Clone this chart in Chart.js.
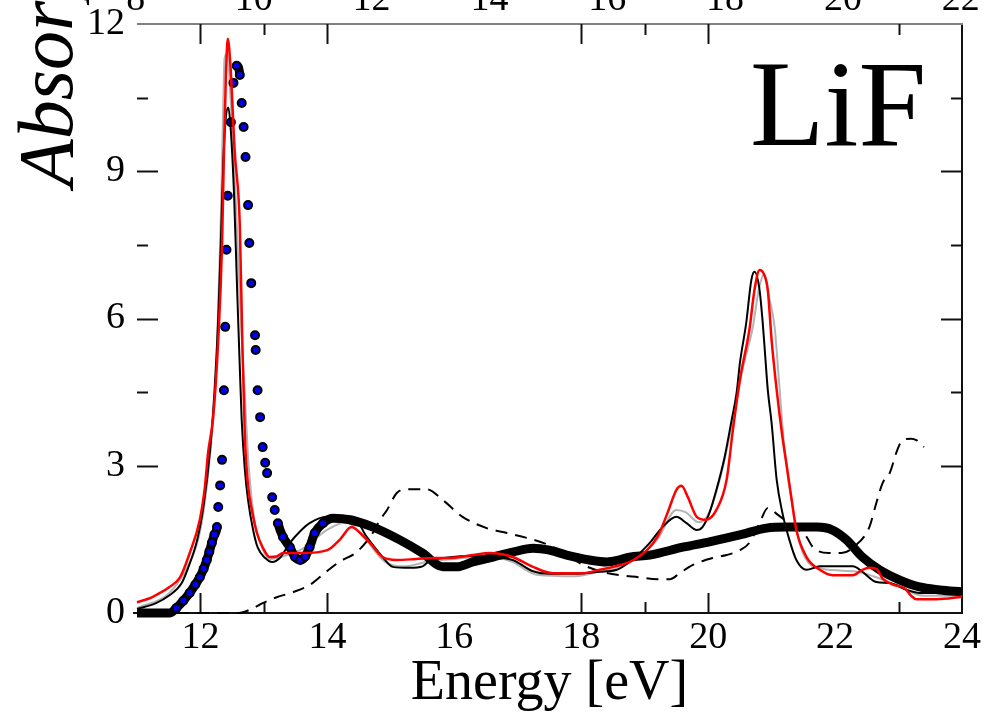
<!DOCTYPE html>
<html><head><meta charset="utf-8">
<script src="https://cdn.jsdelivr.net/npm/chart.js@4/dist/chart.umd.min.js"></script>
<style>html,body{margin:0;padding:0;background:#fff;}canvas{display:block;}</style>
</head><body>
<canvas id="c" width="996" height="716"></canvas>
<script>
// ---------- data ----------
const xTickValues = [12, 14, 16, 18, 20, 22, 24];
const yTickValues = [0, 3, 6, 9, 12];
const topPanelTickLabels = [8, 10, 12, 14, 16, 18, 20, 22];
const xMajorTickMarks = [12, 14, 18, 20];
const xMinorTickMarks = [13, 19, 23];
const yMajorTickMarks = [3, 6, 9];
const yMinorTickMarks = [4.5, 7.5, 10.5];

const redE = [11.0, 11.2, 11.36, 11.5, 11.68, 11.83, 11.99, 12.07, 12.12, 12.2, 12.28, 12.34, 12.37, 12.4, 12.43, 12.47, 12.54, 12.62, 12.66, 12.7, 12.75, 12.81, 12.89, 12.98, 13.09, 13.2, 13.3, 13.6, 14.0, 14.2, 14.38, 14.5, 14.67, 14.87, 15.09, 15.4, 15.66, 15.93, 16.29, 16.56, 16.92, 17.24, 17.55, 18.02, 18.29, 18.5, 18.85, 19.2, 19.36, 19.5, 19.58, 19.68, 19.82, 19.97, 20.13, 20.29, 20.39, 20.5, 20.65, 20.73, 20.81, 20.88, 20.94, 21.0, 21.08, 21.17, 21.24, 21.31, 21.39, 21.55, 21.76, 21.96, 22.28, 22.43, 22.54, 22.65, 22.75, 22.91, 23.1, 23.2, 23.28, 23.6, 24.0];
const redA = [0.22, 0.3, 0.41, 0.52, 0.73, 1.22, 1.9, 2.57, 3.26, 3.99, 5.56, 7.5, 9.4, 10.9, 11.7, 11.2, 9.4, 7.9, 5.5, 3.6, 2.6, 2.1, 1.63, 1.34, 1.14, 1.15, 1.22, 1.22, 1.28, 1.5, 1.75, 1.65, 1.43, 1.14, 1.08, 1.1, 1.12, 1.12, 1.18, 1.22, 1.14, 0.94, 0.81, 0.81, 0.88, 0.94, 1.1, 1.55, 2.04, 2.51, 2.59, 2.36, 1.96, 1.9, 2.1, 2.71, 3.73, 4.75, 5.77, 6.58, 6.99, 6.9, 6.58, 5.56, 4.54, 3.59, 2.98, 2.36, 1.69, 1.14, 0.88, 0.77, 0.77, 0.88, 0.92, 0.9, 0.7, 0.58, 0.5, 0.35, 0.28, 0.28, 0.33];

const blackE = [11.0, 11.3, 11.5, 11.7, 11.8, 11.95, 12.05, 12.15, 12.22, 12.28, 12.32, 12.36, 12.4, 12.44, 12.48, 12.53, 12.58, 12.62, 12.65, 12.7, 12.75, 12.83, 12.9, 13.02, 13.13, 13.25, 13.41, 13.56, 13.72, 13.99, 14.2, 14.4, 14.62, 14.87, 15.03, 15.3, 15.5, 15.61, 15.9, 16.3, 16.6, 16.92, 17.24, 17.5, 17.9, 18.29, 18.56, 18.8, 19.08, 19.28, 19.5, 19.66, 19.82, 19.91, 20.02, 20.13, 20.26, 20.37, 20.45, 20.5, 20.6, 20.68, 20.73, 20.81, 20.86, 20.9, 20.94, 21.0, 21.08, 21.17, 21.28, 21.39, 21.55, 21.76, 22.28, 22.43, 22.65, 22.86, 23.13, 23.33, 24.0];
const blackA = [0.08, 0.2, 0.35, 0.6, 0.9, 1.5, 2.2, 3.3, 4.5, 6.0, 7.5, 9.2, 10.1, 10.3, 9.8, 8.5, 6.5, 5.0, 3.93, 2.91, 2.3, 1.69, 1.34, 1.12, 1.04, 1.12, 1.43, 1.65, 1.83, 1.96, 1.96, 1.96, 1.55, 1.14, 0.94, 0.92, 0.95, 1.06, 1.13, 1.16, 1.14, 1.08, 0.85, 0.8, 0.8, 0.84, 0.88, 1.08, 1.43, 1.75, 1.96, 1.83, 1.69, 1.75, 2.04, 2.51, 3.18, 3.93, 4.5, 5.09, 5.91, 6.78, 6.95, 6.58, 5.91, 5.22, 4.54, 3.87, 2.71, 2.04, 1.49, 1.08, 0.88, 0.95, 0.95, 0.84, 0.63, 0.61, 0.47, 0.41, 0.41];

const grayE = [11.0, 11.5, 11.8, 12.0, 12.15, 12.25, 12.32, 12.35, 12.38, 12.42, 12.47, 12.55, 12.62, 12.7, 12.76, 12.85, 12.98, 13.1, 13.3, 13.6, 14.0, 14.3, 14.6, 14.9, 15.2, 15.6, 16.0, 16.5, 16.9, 17.3, 17.9, 18.3, 18.8, 19.2, 19.5, 19.65, 19.85, 20.0, 20.2, 20.4, 20.55, 20.7, 20.8, 20.88, 20.95, 21.05, 21.1, 21.2, 21.35, 21.5, 21.8, 22.3, 22.6, 23.0, 23.4, 24.0];
const grayA = [0.1, 0.4, 0.95, 1.7, 3.2, 5.0, 8.0, 9.8, 11.3, 11.4, 10.6, 8.6, 6.4, 4.4, 3.0, 1.9, 1.3, 1.1, 1.15, 1.3, 1.7, 1.85, 1.5, 1.05, 0.95, 1.05, 1.1, 1.15, 1.05, 0.78, 0.75, 0.85, 1.05, 1.5, 2.1, 2.05, 1.85, 2.0, 2.8, 4.0, 5.0, 5.8, 6.6, 6.9, 6.5, 5.8, 5.0, 3.4, 2.0, 1.2, 0.9, 0.85, 0.75, 0.55, 0.35, 0.35];

const dashedE = [11.0, 12.6, 12.8, 12.98, 13.2, 13.45, 13.72, 13.99, 14.2, 14.46, 14.7, 14.83, 14.94, 15.09, 15.25, 15.57, 15.82, 16.13, 16.51, 16.83, 17.14, 17.4, 17.7, 18.0, 18.3, 18.6, 18.9, 19.2, 19.4, 19.55, 19.76, 20.07, 20.29, 20.5, 20.65, 20.8, 20.94, 21.1, 21.3, 21.55, 21.65, 21.9, 22.1, 22.3, 22.54, 22.65, 22.75, 22.86, 22.98, 23.06, 23.2, 23.28, 23.4];
const dashedA = [0.0, 0.0, 0.08, 0.2, 0.32, 0.42, 0.57, 0.85, 1.05, 1.24, 1.6, 1.9, 2.1, 2.44, 2.52, 2.52, 2.3, 1.96, 1.73, 1.63, 1.53, 1.43, 1.25, 1.0, 0.85, 0.77, 0.73, 0.69, 0.69, 0.81, 0.98, 1.12, 1.18, 1.28, 1.43, 1.8, 2.14, 2.0, 1.8, 1.55, 1.34, 1.22, 1.22, 1.35, 1.75, 2.24, 2.65, 2.85, 3.32, 3.52, 3.55, 3.52, 3.38];

const exptE = [11.0, 11.52, 11.62, 11.73, 11.83, 11.92, 11.99, 12.05, 12.1, 12.14, 12.18, 12.22, 12.26, 12.28, 12.31, 12.34, 12.37, 12.39, 12.41, 12.43, 12.48, 12.52, 12.57, 12.62, 12.65, 12.68, 12.71, 12.75, 12.77, 12.8, 12.86, 12.87, 12.9, 12.94, 12.98, 13.02, 13.05, 13.13, 13.17, 13.22, 13.3, 13.41, 13.49, 13.57, 13.65, 13.72, 13.8, 13.93, 14.09, 14.35, 14.72, 15.14, 15.5, 15.82, 16.04, 16.29, 16.61, 16.92, 17.24, 17.5, 17.77, 18.13, 18.4, 18.6, 18.76, 19.08, 19.6, 20.02, 20.5, 20.92, 21.24, 21.71, 21.96, 22.18, 22.43, 22.7, 23.02, 23.33, 23.65, 24.0];
const exptA = [0.0, 0.0, 0.1, 0.25, 0.41, 0.58, 0.73, 0.9, 1.08, 1.25, 1.43, 1.6, 1.75, 2.16, 2.6, 3.12, 4.54, 5.83, 7.4, 8.5, 10.0, 10.8, 11.15, 10.96, 10.39, 9.9, 9.29, 8.31, 7.54, 6.72, 5.66, 5.36, 4.54, 3.99, 3.38, 3.06, 2.85, 2.36, 2.1, 1.83, 1.55, 1.34, 1.14, 1.08, 1.15, 1.34, 1.63, 1.83, 1.93, 1.9, 1.75, 1.49, 1.22, 0.94, 0.94, 1.04, 1.14, 1.24, 1.32, 1.28, 1.18, 1.08, 1.04, 1.08, 1.14, 1.18, 1.34, 1.45, 1.59, 1.73, 1.75, 1.75, 1.69, 1.49, 1.14, 0.88, 0.67, 0.53, 0.47, 0.43];

// ---------- helpers ----------
const pts = (xs, ys) => xs.map((x, i) => ({x: x, y: ys[i]}));
const SERIF = '"Liberation Serif", "DejaVu Serif", serif';

const framePlugin = {
  id: 'frame',
  beforeDatasetsDraw(chart) {
    const {ctx, chartArea: a, scales: {x, y}} = chart;
    ctx.save();
    ctx.lineCap = 'butt';
    ctx.lineWidth = 2;
    ctx.strokeStyle = '#111';
    ctx.beginPath(); ctx.moveTo(a.left - 4, a.bottom); ctx.lineTo(a.right + 1, a.bottom); ctx.stroke();
    ctx.beginPath(); ctx.moveTo(a.right, a.top); ctx.lineTo(a.right, a.bottom); ctx.stroke();
    ctx.strokeStyle = '#808080';
    ctx.beginPath(); ctx.moveTo(a.left, a.top); ctx.lineTo(a.right + 1, a.top); ctx.stroke();
    ctx.strokeStyle = '#111';
    const xt = (v, len) => {
      const px = Math.round(x.getPixelForValue(v)) + 0.5;
      ctx.beginPath(); ctx.moveTo(px, a.bottom); ctx.lineTo(px, a.bottom - len); ctx.stroke();
      ctx.beginPath(); ctx.moveTo(px, a.top); ctx.lineTo(px, a.top + len); ctx.stroke();
    };
    const yt = (v, len) => {
      const py = Math.round(y.getPixelForValue(v)) + 0.5;
      ctx.beginPath(); ctx.moveTo(a.left, py); ctx.lineTo(a.left + len, py); ctx.stroke();
      ctx.beginPath(); ctx.moveTo(a.right, py); ctx.lineTo(a.right - len, py); ctx.stroke();
    };
    xMajorTickMarks.forEach(v => xt(v, 20));
    xMinorTickMarks.forEach(v => xt(v, 11));
    yMajorTickMarks.forEach(v => yt(v, 21));
    yMinorTickMarks.forEach(v => yt(v, 11));
    ctx.restore();
  },
  afterDraw(chart) {
    const {ctx, chartArea: a, scales} = chart;
    ctx.save();
    ctx.fillStyle = '#000';
    ctx.font = '38px ' + SERIF;
    ctx.textAlign = 'center';
    ctx.textBaseline = 'alphabetic';
    topPanelTickLabels.forEach(v => {
      ctx.fillText(String(v), scales.xTop.getPixelForValue(v), 10);
    });
    ctx.save();
    ctx.translate(72, 187);
    ctx.rotate(-Math.PI / 2);
    ctx.font = 'italic 78px ' + SERIF;
    ctx.textAlign = 'left';
    ctx.fillText('Absorption', 0, 0);
    ctx.restore();
    ctx.font = '122px ' + SERIF;
    ctx.textAlign = 'left';
    ctx.fillText('LiF', a.right - 212, a.top + 121);
    ctx.restore();
  }
};

new Chart(document.getElementById('c'), {
  type: 'line',
  data: {
    datasets: [
      {label: 'red', data: pts(redE, redA), borderColor: '#ff0000', borderWidth: 2.5, pointRadius: 0, cubicInterpolationMode: 'monotone', clip: 6},
      {label: 'black', data: pts(blackE, blackA), borderColor: '#000', borderWidth: 2, pointRadius: 0, cubicInterpolationMode: 'monotone', clip: 6},
      {label: 'expt', data: pts(exptE, exptA), borderColor: '#000', borderWidth: 9, cubicInterpolationMode: 'monotone', clip: 8,
        pointRadius: c => (c.raw && c.raw.x >= 11.55 && c.raw.x <= 13.95) ? 4 : 0,
        pointBackgroundColor: '#0000ee', pointBorderColor: '#000', pointBorderWidth: 2,
        segment: {borderColor: c => {
          const dx = Math.abs(c.p1.x - c.p0.x), dy = Math.abs(c.p1.y - c.p0.y);
          return dy > 4 * dx ? 'rgba(0,0,0,0)' : '#000';
        }}},
      {label: 'dashed', data: pts(dashedE, dashedA), borderColor: '#000', borderWidth: 2, borderDash: [12, 8], pointRadius: 0, cubicInterpolationMode: 'monotone', clip: 6},
      {label: 'gray', data: pts(grayE, grayA), borderColor: '#b4b4b4', borderWidth: 2, pointRadius: 0, cubicInterpolationMode: 'monotone', clip: 6}
    ]
  },
  options: {
    responsive: false,
    animation: false,
    devicePixelRatio: 1,
    layout: {padding: {left: 0, right: 34, top: 24, bottom: 0}},
    plugins: {legend: {display: false}, tooltip: {enabled: false}},
    elements: {line: {borderCapStyle: 'butt'}},
    scales: {
      x: {
        type: 'linear', min: 11, max: 24,
        afterBuildTicks: s => { s.ticks = xTickValues.map(v => ({value: v})); },
        afterFit: s => { s.height = 103; s.paddingLeft = 0; s.paddingRight = 0; },
        grid: {display: false, drawTicks: false},
        border: {display: false},
        ticks: {font: {family: SERIF, size: 38}, color: '#000', padding: 2, maxRotation: 0, autoSkip: false},
        title: {display: true, text: 'Energy [eV]', color: '#000', font: {family: SERIF, size: 56, lineHeight: 1}, padding: {top: 0, bottom: 4}}
      },
      xTop: {
        axis: 'x', type: 'linear', position: 'top', display: false, min: 8.02, max: 22.02
      },
      y: {
        type: 'linear', min: 0, max: 12,
        afterBuildTicks: s => { s.ticks = yTickValues.map(v => ({value: v})); },
        afterFit: s => { s.width = 137; s.paddingTop = 0; s.paddingBottom = 0; },
        grid: {display: false, drawTicks: false},
        border: {display: false},
        ticks: {font: {family: SERIF, size: 38}, color: '#000', padding: 12}
      }
    }
  },
  plugins: [framePlugin]
});
</script>
</body></html>
